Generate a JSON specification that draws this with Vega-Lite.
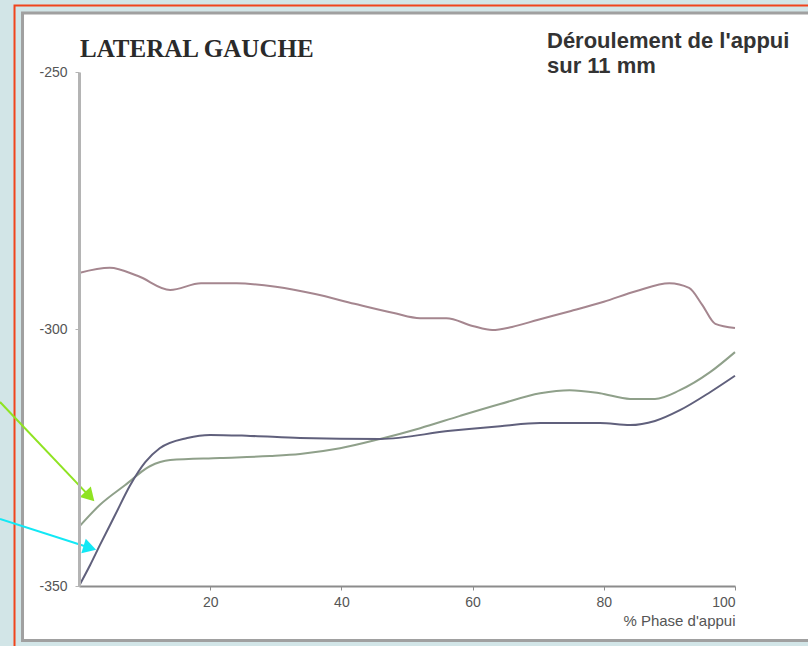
{
  "$schema": "https://vega.github.io/schema/vega-lite/v6.json",
  "autosize": "none",
  "width": 656,
  "height": 514,
  "padding": {"left": 79, "top": 72, "right": 73, "bottom": 60},
  "background": "#d2e5e7",
  "config": {
    "view": {"stroke": null},
    "axis": {"grid": false, "labelFont": "Liberation Sans", "labelFontSize": 14, "labelColor": "#555555", "titleFont": "Liberation Sans", "labelExpr": "'' + datum.value"},
    "axisX": {"domainColor": "#8c8c8c", "domainWidth": 2, "tickColor": "#8c8c8c", "tickSize": 4, "labelPadding": 5},
    "axisY": {"domainColor": "#b4b4b4", "domainWidth": 3, "tickColor": "#b4b4b4", "tickSize": 4, "labelPadding": 8}
  },
  "datasets": {
    "curves": [
      {"series": "rose", "x": 0, "y": -289.1},
      {"series": "rose", "x": 4.7, "y": -288.1},
      {"series": "rose", "x": 9, "y": -289.7},
      {"series": "rose", "x": 13.9, "y": -292.4},
      {"series": "rose", "x": 18.6, "y": -291.1},
      {"series": "rose", "x": 24, "y": -291.1},
      {"series": "rose", "x": 30, "y": -291.8},
      {"series": "rose", "x": 36, "y": -293.2},
      {"series": "rose", "x": 42, "y": -295.1},
      {"series": "rose", "x": 48, "y": -296.9},
      {"series": "rose", "x": 52, "y": -297.9},
      {"series": "rose", "x": 56, "y": -297.9},
      {"series": "rose", "x": 60, "y": -299.4},
      {"series": "rose", "x": 63, "y": -300.2},
      {"series": "rose", "x": 66, "y": -299.6},
      {"series": "rose", "x": 70, "y": -298.2},
      {"series": "rose", "x": 75, "y": -296.5},
      {"series": "rose", "x": 80, "y": -294.7},
      {"series": "rose", "x": 85, "y": -292.6},
      {"series": "rose", "x": 90, "y": -291.1},
      {"series": "rose", "x": 93, "y": -292.0},
      {"series": "rose", "x": 95, "y": -295.3},
      {"series": "rose", "x": 97, "y": -299.0},
      {"series": "rose", "x": 100, "y": -299.8},
      {"series": "vert", "x": 0, "y": -338.5},
      {"series": "vert", "x": 3.2, "y": -334.2},
      {"series": "vert", "x": 7.0, "y": -330.4},
      {"series": "vert", "x": 10.8, "y": -326.7},
      {"series": "vert", "x": 13.9, "y": -325.5},
      {"series": "vert", "x": 21.5, "y": -325.1},
      {"series": "vert", "x": 29.1, "y": -324.7},
      {"series": "vert", "x": 33.7, "y": -324.3},
      {"series": "vert", "x": 39.8, "y": -323.2},
      {"series": "vert", "x": 45.9, "y": -321.4},
      {"series": "vert", "x": 52.0, "y": -319.3},
      {"series": "vert", "x": 58.1, "y": -316.9},
      {"series": "vert", "x": 64.2, "y": -314.6},
      {"series": "vert", "x": 70.3, "y": -312.5},
      {"series": "vert", "x": 74.8, "y": -311.9},
      {"series": "vert", "x": 79.4, "y": -312.5},
      {"series": "vert", "x": 84.0, "y": -313.6},
      {"series": "vert", "x": 87.8, "y": -313.6},
      {"series": "vert", "x": 91.6, "y": -311.9},
      {"series": "vert", "x": 96.2, "y": -308.4},
      {"series": "vert", "x": 100, "y": -304.5},
      {"series": "bleu", "x": 0, "y": -350},
      {"series": "bleu", "x": 1.7, "y": -345.9},
      {"series": "bleu", "x": 3.2, "y": -342.0},
      {"series": "bleu", "x": 5.5, "y": -336.2},
      {"series": "bleu", "x": 7.8, "y": -330.4},
      {"series": "bleu", "x": 10.1, "y": -325.9},
      {"series": "bleu", "x": 12.3, "y": -323.2},
      {"series": "bleu", "x": 16.5, "y": -321.2},
      {"series": "bleu", "x": 20.0, "y": -320.6},
      {"series": "bleu", "x": 26.1, "y": -320.8},
      {"series": "bleu", "x": 33.7, "y": -321.2},
      {"series": "bleu", "x": 45.9, "y": -321.4},
      {"series": "bleu", "x": 56.6, "y": -319.8},
      {"series": "bleu", "x": 64.2, "y": -318.9},
      {"series": "bleu", "x": 70.3, "y": -318.3},
      {"series": "bleu", "x": 79.4, "y": -318.3},
      {"series": "bleu", "x": 84.0, "y": -318.7},
      {"series": "bleu", "x": 87.8, "y": -317.9},
      {"series": "bleu", "x": 91.6, "y": -315.8},
      {"series": "bleu", "x": 96.2, "y": -312.3},
      {"series": "bleu", "x": 100, "y": -309.1}
    ],
    "arrows": [
      {"arrow": "vert", "x": -12.04, "y": -314.2, "x2": 1.65, "y2": -332.6, "angle": 46.5},
      {"arrow": "cyan", "x": -12.04, "y": -336.96, "x2": 1.65, "y2": -342.57, "angle": 17}
    ]
  },
  "layer": [
    {
      "data": {"values": [{}]},
      "mark": {"type": "rect", "fill": "#d2e5e7", "stroke": "#f0441c", "strokeWidth": 2, "clip": false},
      "encoding": {
        "x": {"datum": -9.83, "type": "quantitative", "scale": {"domain": [0, 100], "nice": false, "zero": false}, "axis": {"zindex": 2, "values": [20, 40, 60, 80, 100], "title": "% Phase d'appui", "titleFontSize": 15, "titleFontWeight": "normal", "titleColor": "#555555", "titleAnchor": "end", "titleAlign": "right", "titleX": 656, "titleY": 34, "titleBaseline": "middle"}},
        "x2": {"datum": 112},
        "y": {"datum": -237.06, "type": "quantitative", "scale": {"domain": [-350, -250], "nice": false, "zero": false}, "axis": {"zindex": 2, "values": [-250, -300, -350], "title": null}},
        "y2": {"datum": -364}
      }
    },
    {
      "data": {"values": [{}]},
      "mark": {"type": "rect", "fill": "#ffffff", "stroke": "#a0a0a0", "strokeWidth": 3, "clip": false},
      "encoding": {
        "x": {"datum": -8.61, "type": "quantitative"},
        "x2": {"datum": 112},
        "y": {"datum": -238.52, "type": "quantitative"},
        "y2": {"datum": -360.6}
      }
    },
    {
      "data": {"name": "curves"},
      "mark": {"type": "line", "interpolate": "monotone", "strokeWidth": 2},
      "encoding": {
        "x": {"field": "x", "type": "quantitative"},
        "y": {"field": "y", "type": "quantitative"},
        "color": {"field": "series", "type": "nominal", "scale": {"domain": ["rose", "vert", "bleu"], "range": ["#a5868f", "#8fa08a", "#60607c"]}, "legend": null}
      }
    },
    {
      "data": {"name": "arrows"},
      "mark": {"type": "rule", "strokeWidth": 2, "clip": false},
      "encoding": {
        "x": {"field": "x", "type": "quantitative"},
        "y": {"field": "y", "type": "quantitative"},
        "x2": {"field": "x2"},
        "y2": {"field": "y2"},
        "stroke": {"field": "arrow", "type": "nominal", "scale": {"domain": ["vert", "cyan"], "range": ["#8fe322", "#12e8f5"]}, "legend": null}
      }
    },
    {
      "data": {"name": "arrows"},
      "mark": {"type": "point", "shape": "triangle-right", "filled": true, "size": 230, "opacity": 1, "clip": false},
      "encoding": {
        "x": {"field": "x2", "type": "quantitative"},
        "y": {"field": "y2", "type": "quantitative"},
        "angle": {"field": "angle", "type": "quantitative", "scale": null},
        "fill": {"field": "arrow", "type": "nominal", "scale": {"domain": ["vert", "cyan"], "range": ["#8fe322", "#12e8f5"]}, "legend": null}
      }
    },
    {
      "data": {"values": [{}]},
      "mark": {"type": "text", "align": "left", "baseline": "alphabetic", "font": "Liberation Serif", "fontWeight": "bold", "fontSize": 25, "color": "#2a2a2a", "text": "LATERAL GAUCHE", "clip": false},
      "encoding": {
        "x": {"datum": 0.15, "type": "quantitative"},
        "y": {"datum": -247.08, "type": "quantitative"}
      }
    },
    {
      "data": {"values": [{}]},
      "mark": {"type": "text", "align": "left", "baseline": "top", "font": "Liberation Sans", "fontWeight": "bold", "fontSize": 22, "lineHeight": 25, "color": "#333333", "text": ["Déroulement de l'appui", "sur 11 mm"], "clip": false},
      "encoding": {
        "x": {"datum": 71.34, "type": "quantitative"},
        "y": {"datum": -242.0, "type": "quantitative"}
      }
    }
  ]
}
